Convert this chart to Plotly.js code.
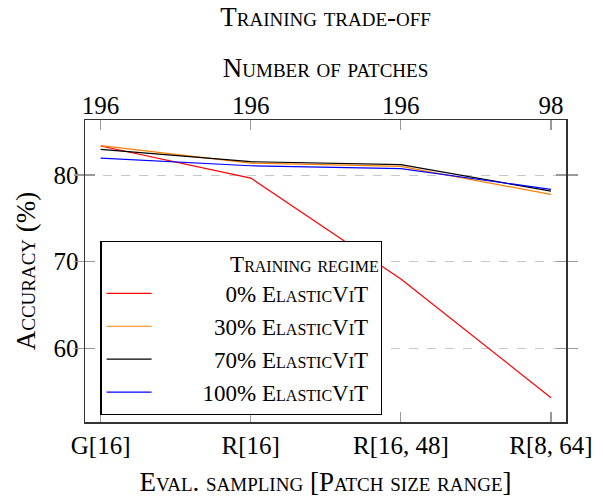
<!DOCTYPE html>
<html><head><meta charset="utf-8">
<script src="https://cdn.plot.ly/plotly-3.0.1.min.js"></script>
<style>html,body{margin:0;padding:0;background:#fff}#chart{width:603px;height:497px}</style>
</head><body><div id="chart"></div>
<script>
const categories = ['G[16]', 'R[16]', 'R[16, 48]', 'R[8, 64]'];
const patches = ['196', '196', '196', '98'];
const seriesNames = ['0% ElasticViT', '30% ElasticViT', '70% ElasticViT', '100% ElasticViT'];
const acc0 = [83.35, 79.65, 68.0, 54.3];
const acc30 = [83.4, 81.38, 81.0, 77.76];
const acc70 = [82.96, 81.54, 81.19, 78.15];
const acc100 = [81.96, 81.07, 80.73, 78.34];
const colors = ['#ff0000', '#ff8000', '#000000', '#0000ff'];
const NB = '\u00a0';
const pads = [NB.repeat(12), NB.repeat(10), NB.repeat(10), NB.repeat(8)];

const FONT = '"Liberation Serif", "Times New Roman", serif';
const SC = {family: FONT, size: 27, color: '#000', variant: 'small-caps'};
const LEG = {family: FONT, size: 23, color: '#000', variant: 'small-caps'};
const NORM = {family: FONT, size: 25, color: '#000'};

const allSeries = [acc0, acc30, acc70, acc100];
const traces = allSeries.map((ys, i) => ({
  x: categories, y: ys, type: 'scatter', mode: 'lines',
  name: pads[i] + seriesNames[i], legendgroup: 'g' + i,
  line: {color: colors[i], width: 1.2}, hoverinfo: 'skip'
}));
traces.push({x: categories, y: categories.map(() => null), xaxis: 'x2', type: 'scatter', mode: 'lines', showlegend: false, hoverinfo: 'skip'});

const xr = [-0.104, 3.1];
const layout = {
  width: 603, height: 497,
  margin: {l: 85, r: 37, t: 120, b: 75},
  paper_bgcolor: '#fff', plot_bgcolor: '#fff',
  showlegend: true,
  title: {text: 'Training trade-off', font: SC, x: 0.54, xanchor: 'center', y: 0.966, yanchor: 'middle'},
  xaxis: {type: 'category', range: xr, showgrid: false, zeroline: false,
    showline: true, linecolor: '#333', linewidth: 1.5, mirror: true,
    ticks: 'inside', ticklen: 10, tickcolor: '#999', tickwidth: 1.2,
    tickfont: NORM,
    title: {text: 'Eval. sampling [Patch size range]', font: SC, standoff: 19}},
  xaxis2: {type: 'category', overlaying: 'x', side: 'top', anchor: 'y', range: xr,
    tickvals: categories, ticktext: patches, showgrid: false, zeroline: false, showline: false,
    ticks: 'inside', ticklen: 10, tickcolor: '#999', tickwidth: 1.2,
    tickfont: NORM,
    title: {text: 'Number of patches', font: SC, standoff: 6}},
  yaxis: {range: [51.5, 86.35], tickvals: [60, 70, 80], zeroline: false,
    showgrid: true, gridcolor: '#c8c8c8', griddash: 'dash', gridwidth: 1,
    showline: true, linecolor: '#333', linewidth: 1.5, mirror: 'allticks',
    ticks: 'inside', ticklen: 10, tickcolor: '#999', tickwidth: 1.2,
    tickfont: NORM,
    title: {text: 'Accuracy (%)', font: SC, standoff: 10}},
  legend: {x: 0.032, y: 0.6, xanchor: 'left', yanchor: 'top',
    bgcolor: '#fff', bordercolor: '#000', borderwidth: 1.2,
    font: LEG, tracegroupgap: 0, itemwidth: 45,
    title: {text: NB.repeat(22) + 'Training regime', font: LEG}}
};
Plotly.newPlot('chart', traces, layout, {staticPlot: true, displayModeBar: false});
</script></body></html>
